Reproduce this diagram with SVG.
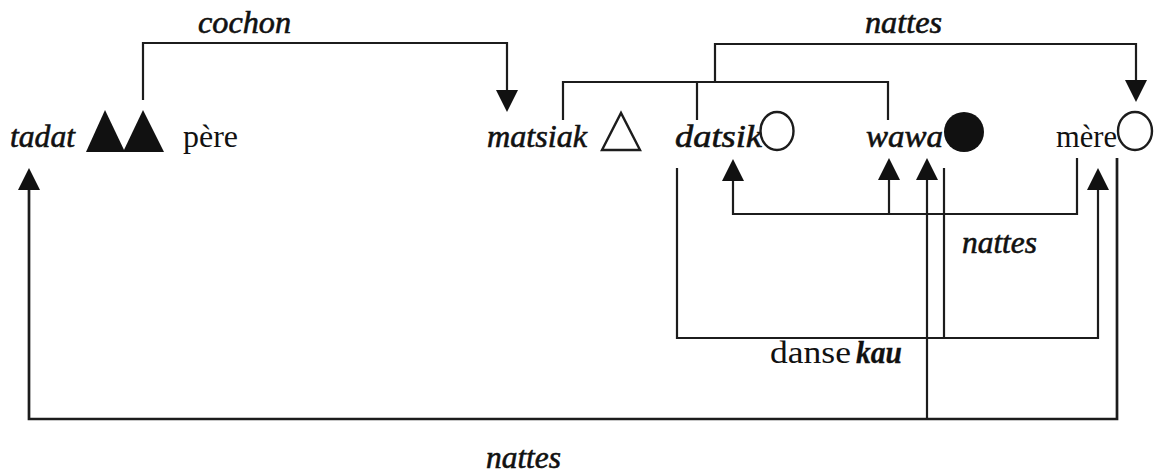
<svg xmlns="http://www.w3.org/2000/svg" width="1155" height="476" viewBox="0 0 1155 476">
<style>
.n{font-family:"Liberation Serif","Times New Roman",serif;font-size:32px;fill:#111;}
.i{font-style:italic;stroke:#111;stroke-width:0.6px;}
.b{font-weight:bold;stroke-width:0.3px;}
.ln{fill:none;stroke:#1c1c1c;stroke-width:2.2;stroke-linejoin:miter;}
.thick{stroke-width:2.7;}
.fill{fill:#111;stroke:none;}
.hol{fill:#fff;stroke:#1c1c1c;stroke-width:2.4;}
</style>
<defs>
<marker id="arr" viewBox="0 0 22 22" refX="0" refY="11" markerWidth="22" markerHeight="22" markerUnits="userSpaceOnUse" orient="auto">
<path d="M0,0 L22,11 L0,22 Z" fill="#111"/>
</marker>
</defs>
<rect width="1155" height="476" fill="#fff"/>
<g id="tadat">
<text class="n i" x="10" y="147" textLength="65" lengthAdjust="spacingAndGlyphs">tadat</text>
<polygon class="fill" points="86,152 105,110 125,152"/>
</g>
<g id="pere">
<polygon class="fill" points="123,152 143,110 164,152"/>
<text class="n" x="183" y="147" textLength="55" lengthAdjust="spacingAndGlyphs">père</text>
</g>
<g id="matsiak">
<text class="n i" x="487" y="147" textLength="100" lengthAdjust="spacingAndGlyphs">matsiak</text>
<polygon class="hol" points="602,150 621,113 640,150"/>
</g>
<g id="datsik">
<text class="n i" x="675" y="147" textLength="87" lengthAdjust="spacingAndGlyphs">datsik</text>
<ellipse class="hol" cx="777" cy="131" rx="16.5" ry="19"/>
</g>
<g id="wawa">
<text class="n i" x="866" y="147" textLength="77" lengthAdjust="spacingAndGlyphs">wawa</text>
<circle class="fill" cx="964" cy="132" r="20"/>
</g>
<g id="mere">
<text class="n" x="1056" y="147" textLength="61" lengthAdjust="spacingAndGlyphs">mère</text>
<ellipse class="hol" cx="1135" cy="131" rx="17" ry="19"/>
</g>
<g id="connectors">
<path class="ln" d="M143,100 V43 H507 V90" marker-end="url(#arr)"/>
<text class="n i" x="198" y="33" textLength="93" lengthAdjust="spacingAndGlyphs">cochon</text>
<path class="ln" d="M563,120 V82 H888 V120 M697,82 V120"/>
<path class="ln" d="M715,82 V44 H1136 V80" marker-end="url(#arr)"/>
<text class="n i" x="865" y="33" textLength="77" lengthAdjust="spacingAndGlyphs">nattes</text>
<path class="ln" d="M1077,158 V214 H733 V181" marker-end="url(#arr)"/>
<path class="ln" d="M889,214 V180" marker-end="url(#arr)"/>
<text class="n i" x="962" y="253" textLength="75" lengthAdjust="spacingAndGlyphs">nattes</text>
<path class="ln" d="M677,168 V338 H1098 V190" marker-end="url(#arr)"/>
<path class="ln" d="M944,168 V338"/>
<text class="n" x="770" y="363" textLength="81" lengthAdjust="spacingAndGlyphs">danse</text>
<text class="n i b" x="856" y="363" textLength="46" lengthAdjust="spacingAndGlyphs">kau</text>
<path class="ln thick" d="M1117,158 V419 H29 V190" marker-end="url(#arr)"/>
<path class="ln" d="M927,419 V180" marker-end="url(#arr)"/>
<text class="n i" x="486" y="468" textLength="75" lengthAdjust="spacingAndGlyphs">nattes</text>
</g>
</svg>
